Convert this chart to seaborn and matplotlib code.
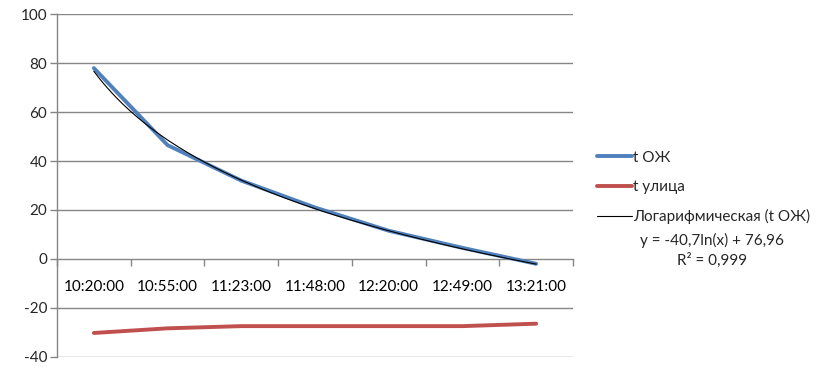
import numpy as np
import pandas as pd
import matplotlib
matplotlib.use("Agg")
import matplotlib.pyplot as plt
import seaborn as sns
from matplotlib.lines import Line2D

times = ["10:20:00", "10:55:00", "11:23:00", "11:48:00", "12:20:00", "12:49:00", "13:21:00"]
t_oj = [78, 46.5, 32, 21, 11.5, 4.5, -2]
t_street = [-30.3, -28.4, -27.5, -27.5, -27.5, -27.5, -26.5]
series_names = ["t ОЖ", "t улица"]
trend_name = "Логарифмическая (t ОЖ)"
eq_text = "y = -40,7ln(x) + 76,96"
r2_text = "R² = 0,999"
y_ticks = [-40, -20, 0, 20, 40, 60, 80, 100]

sns.set_theme(style="white")
plt.rcParams['font.family'] = ['Lato', 'DejaVu Sans']

pos = np.arange(1, len(times) + 1)
df = pd.DataFrame({
    "pos": np.concatenate([pos, pos]),
    "val": t_oj + t_street,
    "series": [series_names[0]] * len(pos) + [series_names[1]] * len(pos),
})

fig = plt.figure(figsize=(8.22, 3.72), dpi=100)
ax = fig.add_axes([57/822, 1-356.7/372, (573-57)/822, (356.7-14.3)/372])

blue = "#4F81BD"
red = "#C0504D"
sns.lineplot(data=df, x="pos", y="val", hue="series", palette=[blue, red],
             linewidth=2.8, ax=ax, legend=False, zorder=3)

# logarithmic trendline fitted to t ОЖ
coef = np.polyfit(np.log(pos), np.array(t_oj, dtype=float), 1)
xs = np.linspace(1, len(pos), 200)
ax.plot(xs, coef[0]*np.log(xs) + coef[1], color="black", lw=0.8, zorder=4)

ax.set_xlim(0.5, len(times) + 0.5)
ax.set_ylim(-40, 100)
ax.set_yticks(y_ticks)
ax.set_yticklabels([str(v) for v in y_ticks])
ax.grid(False)
for v in y_ticks:
    if v != 0:
        ax.axhline(v, color="#868686", lw=1.0, zorder=1)

for s in ["top", "right"]:
    ax.spines[s].set_visible(False)
ax.spines["left"].set_color("#868686")
ax.spines["left"].set_linewidth(1.0)
ax.spines["bottom"].set_position(("data", 0))
ax.spines["bottom"].set_color("#868686")
ax.spines["bottom"].set_linewidth(1.0)

ax.set_xticks(np.arange(0.5, len(times) + 1, 1.0))
ax.set_xticklabels([])
ax.set_xticks(pos, minor=True)
ax.set_xticklabels(times, minor=True)
ax.tick_params(axis="x", which="major", direction="out", length=5, color="#868686", width=1, bottom=True)
ax.tick_params(axis="x", which="minor", length=0, pad=15, labelsize=11, colors="black", bottom=True)
ax.tick_params(axis="y", direction="out", length=5, color="#868686", width=1, pad=2, labelsize=11, left=True)
ax.set_xlabel("")
ax.set_ylabel("")

handles = [Line2D([], [], color=blue, lw=2.8),
           Line2D([], [], color=red, lw=2.8),
           Line2D([], [], color="black", lw=0.8)]
leg = fig.legend(handles, series_names + [trend_name], loc="upper left",
                 bbox_to_anchor=(583/822, 1-137/372), frameon=False,
                 fontsize=11, handlelength=2.3, handletextpad=0.1, labelspacing=1.0)

fig.text(712/822, 1-240/372, eq_text, ha="center", va="center", fontsize=11)
fig.text(712/822, 1-260/372, r2_text, ha="center", va="center", fontsize=11)

fig.savefig("out.png", dpi=100)
